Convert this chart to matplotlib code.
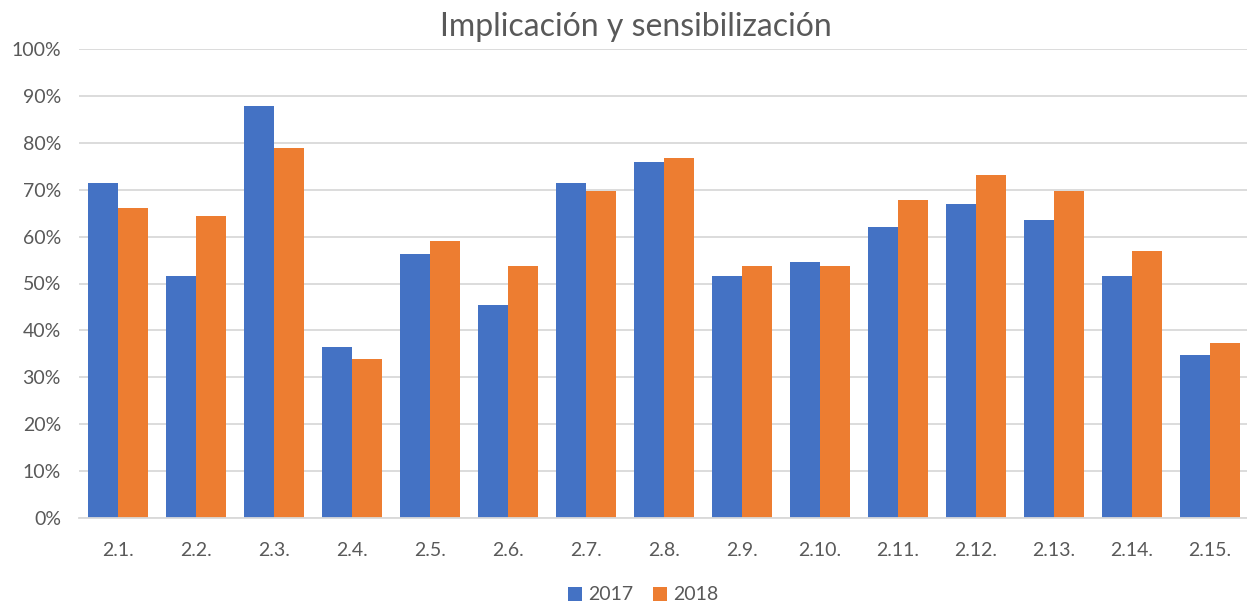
import numpy as np
import matplotlib
matplotlib.use("Agg")
import matplotlib.pyplot as plt
from matplotlib.ticker import PercentFormatter

categories = ["2.1.", "2.2.", "2.3.", "2.4.", "2.5.", "2.6.", "2.7.", "2.8.",
              "2.9.", "2.10.", "2.11.", "2.12.", "2.13.", "2.14.", "2.15."]
v2017 = [71.4, 51.7, 87.8, 36.4, 56.2, 45.5, 71.4, 75.9,
         51.7, 54.5, 62.0, 67.0, 63.6, 51.7, 34.8]
v2018 = [66.0, 64.4, 78.8, 33.9, 59.1, 53.7, 69.7, 76.8,
         53.7, 53.7, 67.7, 73.1, 69.7, 57.0, 37.3]

BLUE = "#4472C4"
ORANGE = "#ED7D31"
TXT = "#595959"
GRID = "#D9D9D9"

plt.rcParams.update({"font.family": ["Lato", "DejaVu Sans"]})

fig = plt.figure(figsize=(12.47, 6.05), dpi=100)
ax = fig.add_axes([79/1247, 1-518/605, (1249-79)/1247, (518-49)/605])

x = np.arange(len(categories))
w = 0.39
ax.bar(x - w/2, v2017, w, color=BLUE, label="2017", zorder=3)
ax.bar(x + w/2, v2018, w, color=ORANGE, label="2018", zorder=3)

ax.set_xlim(-0.5, len(categories) - 0.5)
ax.set_ylim(0, 100)
ax.set_yticks(np.arange(0, 101, 10))
ax.yaxis.set_major_formatter(PercentFormatter(decimals=0))
ax.set_xticks(x)
ax.set_xticklabels(categories)
ax.grid(axis="y", color=GRID, lw=1.3, zorder=0)
for s in ("top", "right", "left"):
    ax.spines[s].set_visible(False)
ax.spines["bottom"].set_color(GRID)
ax.spines["bottom"].set_linewidth(1.3)
ax.spines["bottom"].set_zorder(4)
ax.tick_params(axis="both", length=0, labelsize=14, colors=TXT)
ax.tick_params(axis="x", pad=17)
ax.tick_params(axis="y", pad=13)

fig.text(636/1247, 1-27/605, "Implicación y sensibilización", ha="center", va="center",
         fontsize=23, color=TXT)

leg = fig.legend(loc="center", bbox_to_anchor=(643/1247, 1-595/605), ncol=2,
                 frameon=False, fontsize=14, handlelength=0.75, handleheight=0.75,
                 handletextpad=0.3, columnspacing=1.0)
for t in leg.get_texts():
    t.set_color(TXT)

fig.savefig("out.png", dpi=100)
